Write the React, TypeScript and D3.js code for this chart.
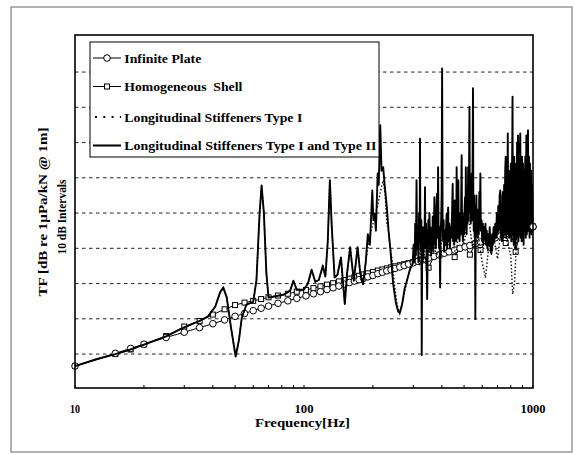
import { useEffect, useRef } from 'react';
import * as d3 from 'd3';

// marker frequencies [Hz] shared by the two analytic curves
const markerFreq = [
  10, 15, 17.5, 20, 25, 30, 35, 40, 45, 50, 55, 60, 65, 70, 77, 85, 93, 102, 110, 118,
  126, 134, 142, 150, 158, 166, 174, 182, 190, 200, 210, 220, 230, 240, 250, 262, 274, 286, 300,
  315, 330, 350, 370, 390, 410, 430, 455, 480, 505, 530, 560, 590, 620, 650, 685, 720, 760,
  800, 840, 880, 920, 960, 1000,
];
const plateTF = [
  6.6, 10.2, 11.6, 12.8, 14.7, 16.2, 17.5, 18.6, 19.7, 20.7, 21.5, 22.3, 23.0, 23.6, 24.4, 25.1, 25.8, 26.5, 27.1, 27.7,
  28.3, 28.8, 29.3, 29.8, 30.3, 30.7, 31.1, 31.5, 31.9, 32.3, 32.8, 33.2, 33.6, 33.9, 34.3, 34.7, 35.1, 35.5, 35.9,
  36.3, 36.7, 37.2, 37.7, 38.1, 38.6, 39.0, 39.5, 40.0, 40.4, 40.8, 41.3, 41.8, 42.2, 42.6, 43.0, 43.5, 44.0,
  44.4, 44.8, 45.1, 45.5, 45.8, 46.1,
];
const shellTF = [
  6.6, 10.0, 11.3, 12.7, 15.1, 17.8, 19.4, 21.2, 22.7, 23.9, 24.6, 25.1, 25.6, 26.1, 26.6, 27.1, 27.7, 28.2, 28.7, 29.2,
  29.7, 30.1, 30.6, 31.0, 31.4, 31.8, 32.2, 32.6, 32.9, 33.3, 33.7, 34.0, 34.3, 34.6, 34.9, 35.2, 35.5, 35.8, 36.1,
  36.5, 36.8, 34.5, 37.8, 38.2, 38.7, 39.1, 37.5, 40.1, 40.5, 38.2, 41.4, 39.5, 42.3, 40.0, 43.1, 43.6, 41.5,
  44.5, 39.0, 45.2, 45.6, 45.9, 46.2,
];

// both stiffened configurations coincide below ~186 Hz
const sharedFreq = [
  10, 12.5, 15, 17.5, 20, 25, 30, 35, 38, 41, 43, 44.4, 46, 48, 50.3, 52, 53.5, 56, 60, 62,
  64, 65.3, 66.8, 68.5, 70, 75, 82, 87, 89.9, 93, 100, 104, 108, 112, 116, 120.8, 124, 127, 129.7, 132,
  136, 140, 145, 150.7, 154, 159, 165, 171.4, 176, 181, 186,
];
const sharedTF = [
  6.6, 8.6, 10.0, 11.3, 12.7, 15.0, 17.6, 19.4, 20.6, 23.5, 27.5, 28.9, 26.0, 17.5, 9.3, 14.0, 20.3, 24.0, 24.8, 31.0,
  50.0, 57.8, 50.0, 33.0, 26.0, 26.4, 26.9, 28.0, 30.8, 28.2, 28.3, 30.0, 33.9, 30.5, 31.0, 35.0, 32.0, 42.0, 59.3, 47.0,
  31.7, 32.5, 37.4, 24.2, 32.5, 40.3, 30.8, 40.3, 33.0, 29.8, 36.0,
];

// Longitudinal Stiffeners Type I (above 186 Hz)
const typeIFreq = [
  190, 196, 200, 205, 209, 214, 218, 222, 226, 230, 234, 238, 242, 248, 255, 262, 270, 280, 292, 305,
  315, 320, 327, 333, 340, 350, 362, 375, 390, 405, 420, 440, 460, 480, 500, 520, 545, 570, 600, 620,
  640, 670, 700, 735, 770, 800, 815, 830, 850, 880, 920, 960, 1000,
];
const typeITF = [
  40.0, 45.0, 47.0, 50.0, 51.6, 55.0, 57.5, 59.3, 55.0, 47.0, 45.0, 40.0, 37.3, 30.0, 24.0, 21.5, 25.0, 30.0, 34.5, 37.0,
  42.0, 35.0, 45.0, 36.0, 42.0, 38.0, 44.0, 39.0, 37.5, 46.0, 40.0, 44.0, 38.0, 47.0, 41.0, 50.0, 40.0, 46.0, 36.0, 31.6,
  40.0, 44.0, 37.0, 48.0, 42.0, 38.0, 27.0, 30.0, 44.0, 50.0, 45.0, 52.0, 46.5,
];

// Longitudinal Stiffeners Type I and Type II (above 186 Hz)
const typeIIFreq = [
  190, 194, 198.7, 201, 203.8, 206, 209.8, 212, 215.3, 218, 221.7, 225, 230, 234, 238.6, 245, 252, 258, 262, 268,
  275, 282, 290, 298, 301, 304, 306, 308, 310, 312, 314, 316, 318, 320, 321, 322.5, 324, 325.5, 326.7, 328,
  330, 332, 334, 336, 337.5, 339, 341, 343, 345, 347, 349, 351, 353, 355, 357, 359, 361, 363, 365, 367,
  369, 371, 373, 375, 377, 379, 381, 383, 385, 387, 389, 391, 393, 395, 397, 399, 401, 403, 405, 407,
  409, 412, 415, 418, 420, 422, 424, 426, 428, 431, 434, 437, 440, 443, 446, 448, 451, 453, 455, 457,
  460, 462, 464, 466, 468, 470, 472, 474, 476, 478, 481, 484, 486, 488, 490, 492, 494, 497, 500, 503,
  505, 507, 509, 511, 513, 516, 518, 521, 523, 525, 528, 530, 533, 535, 538, 540, 542, 545, 547, 549,
  551, 553, 556, 558, 560, 562, 564, 566, 568, 571, 574, 577, 580, 583, 586, 589, 592, 596, 600, 604,
  608, 612, 616, 620, 624, 628, 632, 637, 642, 647, 652, 658, 663, 668, 673, 678, 684, 690, 695, 700,
  705, 710, 715, 720, 724, 728, 732, 736, 740, 744, 748, 752, 756, 760, 764, 768, 772, 776, 780, 784,
  788, 792, 796, 800, 804, 808, 812, 814, 817, 820, 824, 828, 832, 836, 840, 844, 848, 852, 856, 860,
  864, 868, 872, 876, 880, 884, 888, 892, 896, 900, 905, 910, 915, 920, 925, 930, 935, 940, 945, 951,
  956, 961, 966, 971, 976, 981, 986, 991, 996, 1000,
];
const typeIITF = [
  44.0, 41.0, 56.4, 48.0, 49.8, 45.0, 61.2, 58.0, 74.9, 62.0, 63.0, 58.0, 51.7, 45.0, 39.3, 30.0, 24.5, 22.0, 21.7, 24.0,
  28.5, 31.0, 34.0, 35.6, 41.0, 36.0, 47.0, 38.0, 59.3, 40.0, 45.0, 36.0, 50.0, 42.0, 71.1, 44.0, 39.0, 48.0, 9.7, 38.0,
  46.0, 37.0, 43.0, 40.0, 57.3, 42.0, 47.0, 38.0, 25.6, 40.0, 48.0, 39.0, 50.0, 41.0, 46.0, 38.0, 45.0, 40.0, 49.0, 39.0,
  44.0, 54.5, 41.0, 47.0, 40.0, 52.0, 55.5, 43.0, 63.0, 44.0, 40.0, 46.0, 28.9, 43.0, 48.0, 55.0, 91.0, 46.0, 42.0, 48.0,
  39.0, 45.0, 41.0, 47.0, 49.8, 40.0, 45.0, 51.6, 42.0, 47.0, 40.0, 46.0, 43.0, 50.0, 58.3, 42.0, 48.0, 41.0, 53.6, 44.0,
  50.0, 42.0, 63.0, 45.0, 52.0, 43.0, 59.3, 45.0, 50.0, 42.0, 48.0, 44.0, 55.0, 66.4, 45.0, 50.0, 42.0, 47.0, 44.0, 52.0,
  54.5, 46.0, 63.0, 47.0, 44.0, 55.0, 47.0, 63.0, 48.0, 57.0, 80.1, 50.0, 60.0, 47.0, 55.0, 61.2, 48.0, 66.0, 85.4, 52.0,
  45.0, 55.0, 43.0, 48.0, 19.9, 42.0, 50.0, 55.0, 44.0, 49.0, 43.0, 51.0, 44.0, 56.0, 47.0, 61.2, 45.0, 48.0, 42.0, 47.0,
  41.0, 46.0, 42.5, 47.0, 41.0, 45.0, 40.0, 44.0, 41.0, 46.0, 40.0, 38.4, 44.0, 41.0, 46.0, 42.0, 47.0, 43.0, 50.0, 44.0,
  52.0, 45.0, 55.0, 56.4, 43.0, 52.0, 42.0, 55.0, 56.0, 43.0, 58.0, 44.0, 62.0, 66.0, 43.0, 60.0, 45.0, 72.6, 44.0, 62.0,
  43.0, 60.0, 45.0, 64.0, 42.0, 58.0, 70.0, 83.0, 44.0, 62.0, 41.0, 66.0, 44.0, 64.0, 40.0, 60.0, 45.0, 70.0, 43.0, 72.0,
  42.0, 63.0, 44.0, 68.0, 72.6, 43.0, 64.0, 42.0, 66.0, 44.0, 64.0, 41.0, 62.0, 45.0, 66.0, 43.0, 72.0, 44.0, 65.0, 73.5,
  45.0, 66.0, 43.0, 64.0, 45.0, 62.0, 44.0, 58.0, 45.0, 46.0,
];

const xTickValues = [10, 100, 1000];
const xMinorTicks = [20, 30, 40, 50, 60, 70, 80, 90, 200, 300, 400, 500, 600, 700, 800, 900];
const gridLevels = [10, 20, 30, 40, 50, 60, 70, 80, 90];
const legendLabels = [
  'Infinite Plate',
  'Homogeneous  Shell',
  'Longitudinal Stiffeners Type I',
  'Longitudinal Stiffeners Type I and Type II',
];

type Pt = { f: number; v: number };
const zip = (fs: number[], vs: number[]): Pt[] => fs.map((f, i) => ({ f, v: vs[i] }));

export default function App() {
  const svgRef = useRef<SVGSVGElement>(null);

  useEffect(() => {
    const W = 575;
    const H = 455;
    const frame = { left: 75, right: 533, top: 35, bottom: 388 };
    const font = "'Liberation Serif', 'Times New Roman', serif";

    const svg = d3.select(svgRef.current);
    svg.selectAll('*').remove();
    svg.attr('width', W).attr('height', H);

    const x = d3.scaleLog().domain([10, 1000]).range([frame.left, frame.right]);
    const y = d3.scaleLinear().domain([0, 100]).range([389.3, 36.8]);

    // outer figure border
    svg.append('rect')
      .attr('x', 11).attr('y', 7).attr('width', 561).attr('height', 445)
      .attr('fill', 'white').attr('stroke', '#666').attr('stroke-width', 1);

    // dashed grid
    svg.append('g').selectAll('line')
      .data(gridLevels)
      .join('line')
      .attr('x1', frame.left).attr('x2', frame.right)
      .attr('y1', (d) => y(d)).attr('y2', (d) => y(d))
      .attr('stroke', '#222').attr('stroke-width', 1)
      .attr('stroke-dasharray', '3.5,3.5');

    const line = d3.line<Pt>().x((d) => x(d.f)).y((d) => y(d.v));

    const plate = zip(markerFreq, plateTF);
    const shell = zip(markerFreq, shellTF);
    const typeI = zip(sharedFreq, sharedTF).concat(zip(typeIFreq, typeITF));
    const typeII = zip(sharedFreq, sharedTF).concat(zip(typeIIFreq, typeIITF));

    svg.append('path').datum(plate).attr('d', line)
      .attr('fill', 'none').attr('stroke', 'black').attr('stroke-width', 1);
    svg.append('path').datum(shell).attr('d', line)
      .attr('fill', 'none').attr('stroke', 'black').attr('stroke-width', 1);

    // markers
    svg.append('g').selectAll('rect')
      .data(shell)
      .join('rect')
      .attr('x', (d) => x(d.f) - 2.5).attr('y', (d) => y(d.v) - 2.5)
      .attr('width', 5).attr('height', 5)
      .attr('fill', 'white').attr('stroke', 'black').attr('stroke-width', 1);
    svg.append('g').selectAll('circle')
      .data(plate)
      .join('circle')
      .attr('cx', (d) => x(d.f)).attr('cy', (d) => y(d.v)).attr('r', 3.3)
      .attr('fill', 'white').attr('stroke', 'black').attr('stroke-width', 1);

    svg.append('path').datum(typeI).attr('d', line)
      .attr('fill', 'none').attr('stroke', '#111').attr('stroke-width', 1.4)
      .attr('stroke-dasharray', '1.5,2');
    svg.append('path').datum(typeII).attr('d', line)
      .attr('fill', 'none').attr('stroke', 'black').attr('stroke-width', 1.9)
      .attr('stroke-linejoin', 'round');

    // end marker of the plate curve stays visible on top
    svg.append('circle')
      .datum(plate[plate.length - 1])
      .attr('cx', (d) => x(d.f)).attr('cy', (d) => y(d.v)).attr('r', 3.3)
      .attr('fill', 'white').attr('stroke', 'black').attr('stroke-width', 1);

    // plot frame
    svg.append('rect')
      .attr('x', frame.left).attr('y', frame.top)
      .attr('width', frame.right - frame.left).attr('height', frame.bottom - frame.top)
      .attr('fill', 'none').attr('stroke', 'black').attr('stroke-width', 1.6);

    // inward minor ticks on the bottom axis
    svg.append('g').selectAll('line')
      .data(xMinorTicks.concat(xTickValues))
      .join('line')
      .attr('x1', (d) => x(d)).attr('x2', (d) => x(d))
      .attr('y1', frame.bottom).attr('y2', frame.bottom - 3)
      .attr('stroke', 'black').attr('stroke-width', 1);

    // tick labels
    const tickWidths: Record<number, number> = { 10: 10, 100: 19, 1000: 25 };
    svg.append('g').selectAll('text')
      .data(xTickValues)
      .join('text')
      .attr('x', (d) => x(d)).attr('y', 413)
      .attr('text-anchor', 'middle')
      .attr('font-family', font).attr('font-weight', 'bold').attr('font-size', 12.5)
      .attr('textLength', (d) => tickWidths[d]).attr('lengthAdjust', 'spacingAndGlyphs')
      .text((d) => String(d));

    svg.append('text')
      .attr('x', 302.5).attr('y', 427)
      .attr('text-anchor', 'middle')
      .attr('font-family', font).attr('font-weight', 'bold').attr('font-size', 13.5)
      .attr('textLength', 95).attr('lengthAdjust', 'spacingAndGlyphs')
      .text('Frequency[Hz]');

    // y label (two lines)
    const yl = svg.append('g').attr('transform', 'translate(0,212) rotate(-90)');
    yl.append('text')
      .attr('x', 0).attr('y', 47)
      .attr('text-anchor', 'middle')
      .attr('font-family', font).attr('font-weight', 'bold').attr('font-size', 12.5)
      .attr('textLength', 169).attr('lengthAdjust', 'spacingAndGlyphs')
      .text('TF [dB re 1μPa/kN @ 1m]');
    yl.append('text')
      .attr('x', -5).attr('y', 66)
      .attr('text-anchor', 'middle')
      .attr('font-family', font).attr('font-weight', 'bold').attr('font-size', 13)
      .attr('textLength', 75).attr('lengthAdjust', 'spacingAndGlyphs')
      .text('10 dB Intervals');

    // legend
    const lg = svg.append('g');
    lg.append('rect')
      .attr('x', 90).attr('y', 42).attr('width', 289).attr('height', 115)
      .attr('fill', 'white').attr('stroke', 'black').attr('stroke-width', 1);
    const rowY = [58, 86.5, 117, 145.5];
    const textW = [77, 118, 178, 252];
    legendLabels.forEach((label, i) => {
      const ry = rowY[i];
      const s = lg.append('line')
        .attr('x1', 93).attr('x2', 121).attr('y1', ry).attr('y2', ry)
        .attr('stroke', 'black');
      if (i === 0) {
        s.attr('stroke-width', 1);
        lg.append('circle').attr('cx', 107).attr('cy', ry).attr('r', 3.3)
          .attr('fill', 'white').attr('stroke', 'black').attr('stroke-width', 1);
      } else if (i === 1) {
        s.attr('stroke-width', 1);
        lg.append('rect').attr('x', 104.5).attr('y', ry - 2.5).attr('width', 5).attr('height', 5)
          .attr('fill', 'white').attr('stroke', 'black').attr('stroke-width', 1);
      } else if (i === 2) {
        s.attr('stroke-width', 2).attr('stroke-dasharray', '2,6.3').attr('x1', 95);
      } else {
        s.attr('stroke-width', 2);
      }
      lg.append('text')
        .attr('x', 124.3).attr('y', ry + 4.5)
        .attr('font-family', font).attr('font-weight', 'bold').attr('font-size', 13)
        .attr('textLength', textW[i]).attr('lengthAdjust', 'spacingAndGlyphs')
        .style('white-space', 'pre')
        .text(label);
    });
  }, []);

  return (
    <svg ref={svgRef} style={{ position: 'absolute', left: 0, top: 0 }}></svg>
  );
}
